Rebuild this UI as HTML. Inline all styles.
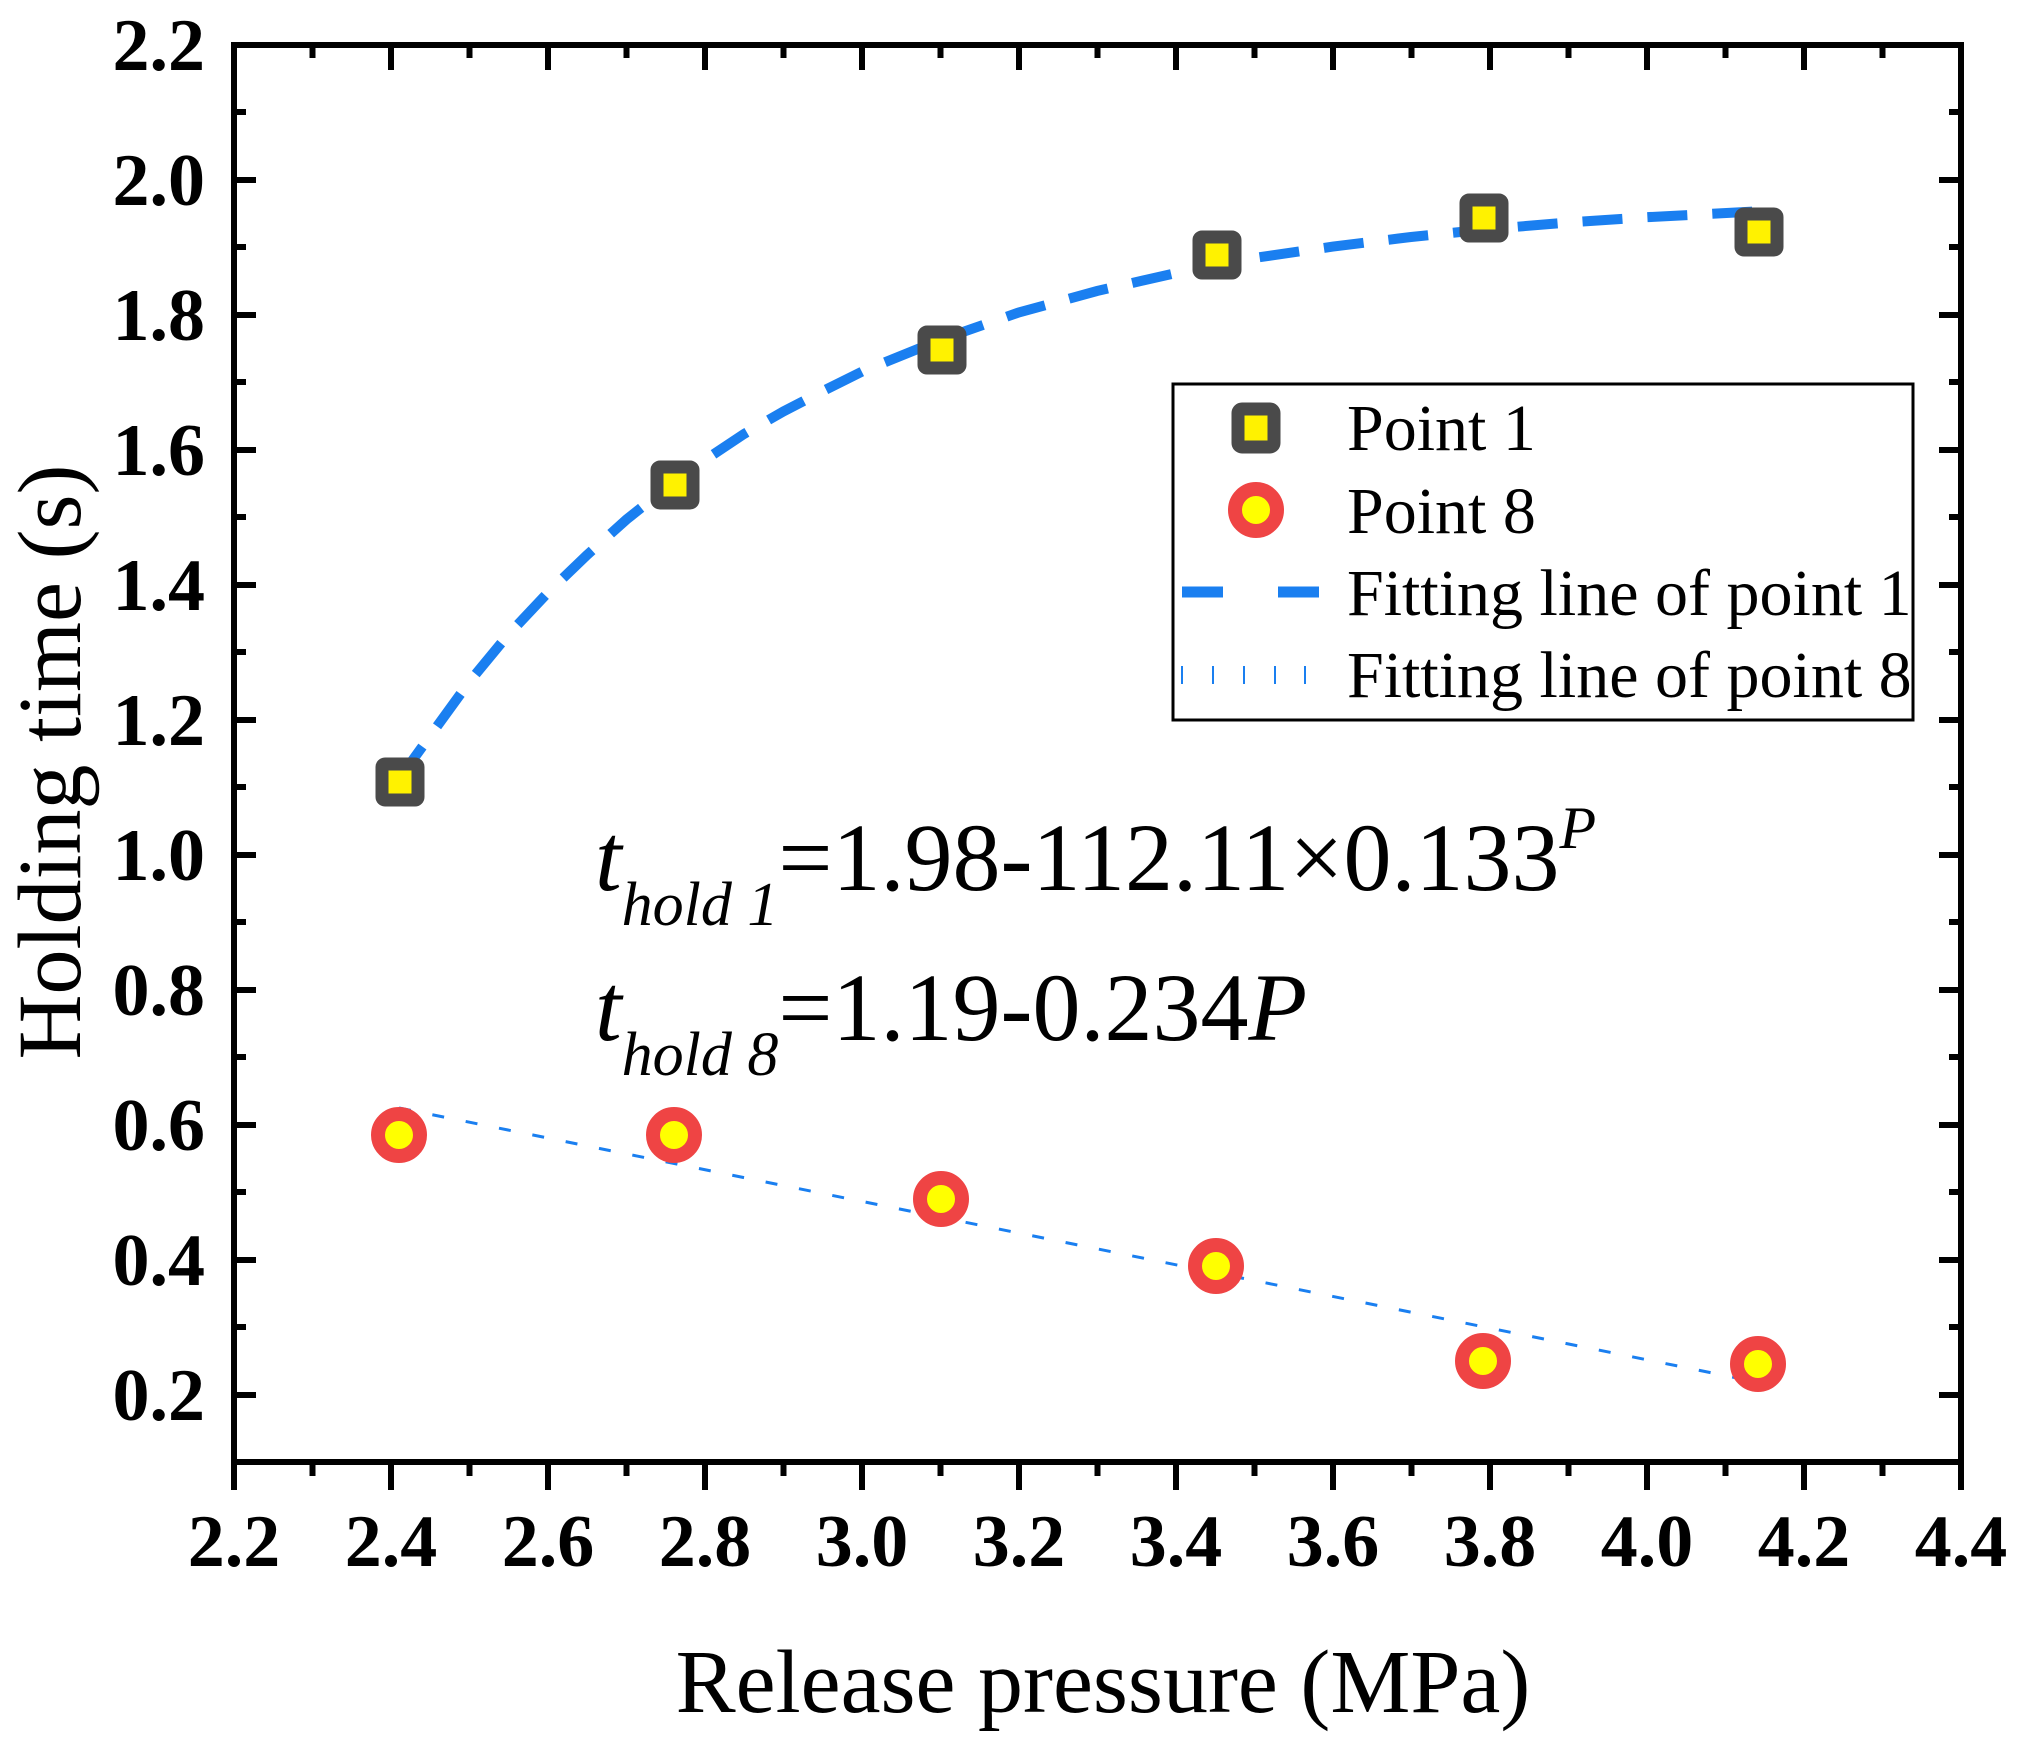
<!DOCTYPE html>
<html><head><meta charset="utf-8"><style>
html,body{margin:0;padding:0;background:#fff;}
svg{display:block;font-family:"Liberation Serif",serif;}
</style></head><body>
<svg width="2021" height="1744" viewBox="0 0 2021 1744" xmlns="http://www.w3.org/2000/svg">
<rect width="2021" height="1744" fill="#fff"/>
<g stroke="#000" stroke-width="6">
<path d="M234 180h22M234 315h22M234 450h22M234 585h22M234 720h22M234 855h22M234 990h22M234 1125h22M234 1260h22M234 1395h22"/>
<path d="M1961 180h-22M1961 315h-22M1961 450h-22M1961 585h-22M1961 720h-22M1961 855h-22M1961 990h-22M1961 1125h-22M1961 1260h-22M1961 1395h-22"/>
<path d="M234 112h12M234 247h12M234 382h12M234 517h12M234 652h12M234 787h12M234 922h12M234 1057h12M234 1192h12M234 1327h12"/>
<path d="M1961 112h-12M1961 247h-12M1961 382h-12M1961 517h-12M1961 652h-12M1961 787h-12M1961 922h-12M1961 1057h-12M1961 1192h-12M1961 1327h-12"/>
<path d="M391 1462v28M548 1462v28M705 1462v28M862 1462v28M1019 1462v28M1176 1462v28M1333 1462v28M1490 1462v28M1647 1462v28M1804 1462v28M1961 1462v28M234 1462v28"/>
<path d="M312.5 1462v14M469.5 1462v14M626.5 1462v14M783.5 1462v14M940.5 1462v14M1097.5 1462v14M1254.5 1462v14M1411.5 1462v14M1568.5 1462v14M1725.5 1462v14M1882.5 1462v14"/>
<path d="M391 45v25M548 45v25M705 45v25M862 45v25M1019 45v25M1176 45v25M1333 45v25M1490 45v25M1647 45v25M1804 45v25"/>
<path d="M312.5 45v13M469.5 45v13M626.5 45v13M783.5 45v13M940.5 45v13M1097.5 45v13M1254.5 45v13M1411.5 45v13M1568.5 45v13M1725.5 45v13M1882.5 45v13"/>
</g>
<rect x="234" y="45" width="1727" height="1417" fill="none" stroke="#000" stroke-width="6"/>
<g font-size="74" font-weight="bold" text-anchor="end">
<text x="205" y="70">2.2</text><text x="205" y="205">2.0</text><text x="205" y="340">1.8</text>
<text x="205" y="475">1.6</text><text x="205" y="610">1.4</text><text x="205" y="745">1.2</text>
<text x="205" y="880">1.0</text><text x="205" y="1015">0.8</text><text x="205" y="1150">0.6</text>
<text x="205" y="1285">0.4</text><text x="205" y="1420">0.2</text>
</g>
<g font-size="74" font-weight="bold" text-anchor="middle">
<text x="234" y="1566">2.2</text><text x="391" y="1566">2.4</text><text x="548" y="1566">2.6</text>
<text x="705" y="1566">2.8</text><text x="862" y="1566">3.0</text><text x="1019" y="1566">3.2</text>
<text x="1176" y="1566">3.4</text><text x="1333" y="1566">3.6</text><text x="1490" y="1566">3.8</text>
<text x="1647" y="1566">4.0</text><text x="1804" y="1566">4.2</text><text x="1961" y="1566">4.4</text>
</g>
<text x="1103" y="1712" font-size="90" text-anchor="middle">Release pressure (MPa)</text>
<text transform="translate(80,762) rotate(-90)" font-size="90" text-anchor="middle">Holding time (s)</text>
<path d="M399 779 L430 736 L469.5 681.6 L508 635 L548 592.5 L587 555 L626.5 519.5 L666 488 L705 460 L744 434 L783.5 411.4 L823 391 L862 371.6 L940 340 L1019 312.4 L1097 291 L1176 273 L1254 258 L1333 246.6 L1411 237 L1490 229 L1568 222.5 L1647 217.2 L1757 211.4" fill="none" stroke="#1a7ff0" stroke-width="10" stroke-dasharray="40 25"/>
<path d="M399 1108 L1757 1382" fill="none" stroke="#1a7ff0" stroke-width="3" stroke-dasharray="12 22"/>
<g fill="#fff200" stroke="#4a4a4a" stroke-width="13">
<rect x="382" y="764" width="36" height="36" rx="3"/>
<rect x="657" y="467" width="36" height="36" rx="3"/>
<rect x="924" y="332" width="36" height="36" rx="3"/>
<rect x="1199" y="237" width="36" height="36" rx="3"/>
<rect x="1466" y="200" width="36" height="36" rx="3"/>
<rect x="1741" y="214" width="36" height="36" rx="3"/>
</g>
<g fill="#ffff00" stroke="#ef4444" stroke-width="14">
<circle cx="399" cy="1135" r="21"/>
<circle cx="674" cy="1135" r="21"/>
<circle cx="941" cy="1199" r="21"/>
<circle cx="1216" cy="1266" r="21"/>
<circle cx="1483" cy="1361" r="21"/>
<circle cx="1758" cy="1364" r="21"/>
</g>
<text x="595" y="890" font-size="96"><tspan font-style="italic">t</tspan><tspan font-size="62" font-style="italic" dy="35">hold 1</tspan><tspan dy="-35">=1.98-112.11×0.133</tspan><tspan font-size="60" font-style="italic" dy="-42">P</tspan></text>
<text x="595" y="1040" font-size="96"><tspan font-style="italic">t</tspan><tspan font-size="62" font-style="italic" dy="35">hold 8</tspan><tspan dy="-35">=1.19-0.234</tspan><tspan font-style="italic">P</tspan></text>
<rect x="1173" y="384" width="740" height="336" fill="#fff" stroke="#000" stroke-width="3"/>
<rect x="1238" y="409" width="36" height="38" rx="4" fill="#fff200" stroke="#4a4a4a" stroke-width="13"/>
<circle cx="1256" cy="510" r="21" fill="#ffff00" stroke="#ef4444" stroke-width="14"/>
<path d="M1182 592h41M1278 592h41" stroke="#1a7ff0" stroke-width="11"/>
<path d="M1182 666v18M1213 666v18M1244 666v18M1275 666v18M1305 666v18" stroke="#1a7ff0" stroke-width="2"/>
<g font-size="66">
<text x="1347" y="450">Point 1</text>
<text x="1347" y="533">Point 8</text>
<text x="1347" y="615">Fitting line of point 1</text>
<text x="1347" y="697">Fitting line of point 8</text>
</g>
</svg>
</body></html>
